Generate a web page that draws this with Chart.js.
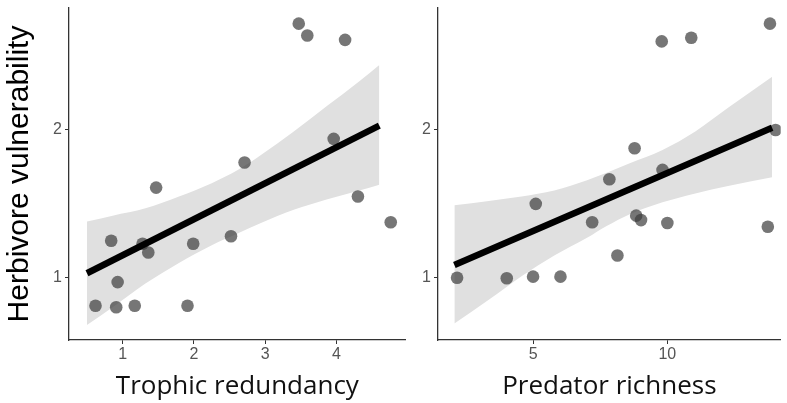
<!DOCTYPE html>
<html>
<head>
<meta charset="utf-8">
<script src="https://cdn.jsdelivr.net/npm/chart.js@4/dist/chart.umd.min.js"></script>
<style>
  body { margin: 0; background: #fff; }
  #wrap { position: relative; width: 787px; height: 403px; overflow: hidden; }
  #wrap canvas { position: absolute; top: 0; }
</style>
</head>
<body>
<div id="wrap">
  <canvas id="left-chart" width="412" height="403" style="left:0"></canvas>
  <canvas id="right-chart" width="375" height="403" style="left:412px"></canvas>
</div>
<script>
// tick labels
const vulnTicks = [1, 2];
const redundancyTicks = [1, 2, 3, 4];
const richnessTicks = [5, 10];

// left panel: trophic redundancy vs herbivore vulnerability
const redundancyX = [3.47, 3.59, 4.12, 3.96, 2.71, 1.47, 4.30, 4.76, 0.84, 1.28, 1.36, 1.99, 2.52, 0.93, 0.62, 0.91, 1.17, 1.91];
const redundancyVuln = [2.72, 2.64, 2.61, 1.94, 1.78, 1.61, 1.55, 1.375, 1.25, 1.23, 1.17, 1.23, 1.28, 0.97, 0.81, 0.80, 0.81, 0.81];
const redundancyFitX = [0.5, 4.6];
const redundancyFitY = [1.03, 2.03];
const redundancyBandX = [0.5, 0.86, 1.32, 1.79, 2.25, 2.62, 2.94, 3.40, 3.86, 4.32, 4.6];
const redundancyBandUpper = [1.38, 1.42, 1.47, 1.55, 1.64, 1.73, 1.83, 1.99, 2.16, 2.33, 2.44];
const redundancyBandLower = [0.68, 0.80, 0.96, 1.10, 1.22, 1.30, 1.37, 1.46, 1.53, 1.59, 1.63];

// right panel: predator richness vs herbivore vulnerability
const richnessX = [13.82, 9.79, 10.89, 14.03, 8.78, 7.84, 9.82, 5.10, 7.20, 8.84, 9.02, 10.0, 13.74, 8.14, 2.17, 4.02, 5.0, 6.02];
const richnessVuln = [2.72, 2.60, 2.625, 2.0, 1.876, 1.666, 1.73, 1.50, 1.375, 1.42, 1.39, 1.37, 1.345, 1.15, 1.0, 0.996, 1.007, 1.007];
const richnessFitX = [2.07, 13.9];
const richnessFitY = [1.086, 2.015];
const richnessBandX = [2.07, 3.35, 4.57, 5.79, 7.01, 7.74, 8.60, 9.82, 11.04, 12.26, 13.9];
const richnessBandUpper = [1.49, 1.52, 1.55, 1.59, 1.66, 1.71, 1.775, 1.865, 1.99, 2.15, 2.36];
const richnessBandLower = [0.69, 0.85, 1.01, 1.15, 1.27, 1.35, 1.43, 1.51, 1.57, 1.62, 1.68];

const pairs = (xs, ys) => xs.map((x, i) => ({ x: x, y: ys[i] }));

function makePanel(canvasId, cfg) {
    const axisColor = '#333333';
    const tickFont = { family: 'Liberation Sans', size: 16 };

    new Chart(document.getElementById(canvasId), {
        type: 'scatter',
        data: {
            datasets: [
                {   // fitted line
                    data: pairs(cfg.fitX, cfg.fitY),
                    showLine: true,
                    borderColor: '#000',
                    borderWidth: 6.5,
                    borderCapStyle: 'butt',
                    pointRadius: 0
                },
                {   // observations
                    data: pairs(cfg.xs, cfg.ys),
                    backgroundColor: 'rgba(60, 60, 60, 0.7)',
                    borderWidth: 0,
                    pointRadius: 6.3
                },
                {   // confidence band, upper edge
                    data: pairs(cfg.bandX, cfg.bandUpper),
                    showLine: true,
                    borderWidth: 0,
                    borderColor: 'rgba(0,0,0,0)',
                    backgroundColor: '#e0e0e0',
                    fill: '+1',
                    cubicInterpolationMode: 'monotone',
                    pointRadius: 0
                },
                {   // confidence band, lower edge
                    data: pairs(cfg.bandX, cfg.bandLower),
                    showLine: true,
                    borderWidth: 0,
                    borderColor: 'rgba(0,0,0,0)',
                    cubicInterpolationMode: 'monotone',
                    pointRadius: 0
                }
            ]
        },
        options: {
            responsive: false,
            animation: false,
            devicePixelRatio: 1,
            layout: { padding: { top: 8, right: cfg.padRight, bottom: 0, left: 0 } },
            plugins: {
                legend: { display: false },
                tooltip: { enabled: false }
            },
            scales: {
                x: {
                    type: 'linear',
                    min: cfg.xMin,
                    max: cfg.xMax,
                    afterBuildTicks: (s) => { s.ticks = cfg.xTicks.map(v => ({ value: v })); },
                    afterFit: (s) => { s.height = 63; s.paddingLeft = 0; s.paddingRight = 0; },
                    grid: { display: true, drawOnChartArea: false, drawTicks: true, tickLength: 4, color: axisColor },
                    border: { display: true, color: axisColor, width: 1.3 },
                    ticks: { color: '#555', font: tickFont, padding: 1, maxRotation: 0 },
                    title: {
                        display: true,
                        text: cfg.xTitle,
                        color: '#111',
                        font: { family: 'Open Sans', size: 26 },
                        padding: { top: 0, bottom: 1 }
                    }
                },
                y: {
                    type: 'linear',
                    min: 0.578,
                    max: 2.826,
                    afterBuildTicks: (s) => { s.ticks = vulnTicks.map(v => ({ value: v })); },
                    afterFit: (s) => { s.width = cfg.yWidth; s.paddingTop = 0; s.paddingBottom = 0; },
                    grid: { display: true, drawOnChartArea: false, drawTicks: true, tickLength: 4, color: axisColor },
                    border: { display: true, color: axisColor, width: 1.3 },
                    ticks: { color: '#555', font: tickFont, padding: 3 },
                    title: {
                        display: cfg.yTitle !== '',
                        text: cfg.yTitle,
                        color: '#000',
                        font: { family: 'Liberation Sans', size: 30 },
                        padding: { top: 2, bottom: 0 }
                    }
                }
            }
        }
    });
}

makePanel('left-chart', {
    xs: redundancyX, ys: redundancyVuln,
    fitX: redundancyFitX, fitY: redundancyFitY,
    bandX: redundancyBandX, bandUpper: redundancyBandUpper, bandLower: redundancyBandLower,
    xMin: 0.248, xMax: 4.97, xTicks: redundancyTicks,
    xTitle: 'Trophic redundancy', yTitle: 'Herbivore vulnerability',
    yWidth: 69, padRight: 2
});

makePanel('right-chart', {
    xs: richnessX, ys: richnessVuln,
    fitX: richnessFitX, fitY: richnessFitY,
    bandX: richnessBandX, bandUpper: richnessBandUpper, bandLower: richnessBandLower,
    xMin: 1.46, xMax: 14.22, xTicks: richnessTicks,
    xTitle: 'Predator richness', yTitle: '',
    yWidth: 26, padRight: 0
});
</script>
</body>
</html>
